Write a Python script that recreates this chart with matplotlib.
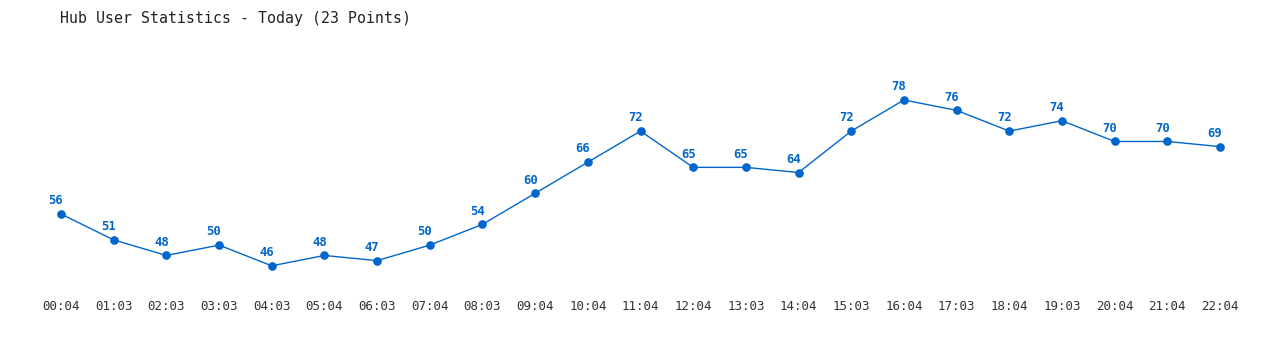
import matplotlib
matplotlib.use("Agg")
import matplotlib.pyplot as plt

times = ["00:04", "01:03", "02:03", "03:03", "04:03", "05:04", "06:03", "07:04",
         "08:03", "09:04", "10:04", "11:04", "12:04", "13:03", "14:04", "15:03",
         "16:04", "17:03", "18:04", "19:03", "20:04", "21:04", "22:04"]
users = [56, 51, 48, 50, 46, 48, 47, 50, 54, 60, 66, 72, 65, 65, 64, 72,
         78, 76, 72, 74, 70, 70, 69]
title = "Hub User Statistics - Today (23 Points)"

W, H = 1280, 350
fig = plt.figure(figsize=(W / 100, H / 100), dpi=100)
ax = fig.add_axes([0, 0, 1, 1])
ax.set_axis_off()

# map pixels -> data
x0, dx = 61.0, (1220.0 - 61.0) / 22
y56, dy = 214.0, (214.0 - 100.0) / 22
ax.set_xlim(-x0 / dx, (W - x0) / dx)
ax.set_ylim(56 - (H - y56) / dy, 56 + y56 / dy)

color = "#0066cc"
xs = list(range(len(users)))
ax.plot(xs, users, color=color, lw=1.0, marker="o", ms=5.2, mec=color, mfc=color)

mono = "DejaVu Sans Mono"
for x, v in zip(xs, users):
    ax.annotate(str(v), (x, v), xytext=(-3.6, 9.5), textcoords="offset points",
                ha="center", va="center", fontsize=8.8, fontweight="bold",
                color=color, family=mono)

ylab = 56 - (307 - y56) / dy
for x, t in zip(xs, times):
    ax.text(x, ylab, t, ha="center", va="center", fontsize=9.0, color="#333333",
            family=mono)

fig.text(60 / W, 1 - 18 / H, title, ha="left", va="center", fontsize=10.7,
         color="#222222", family=mono)

fig.savefig("out.png", dpi=100, facecolor="white")
